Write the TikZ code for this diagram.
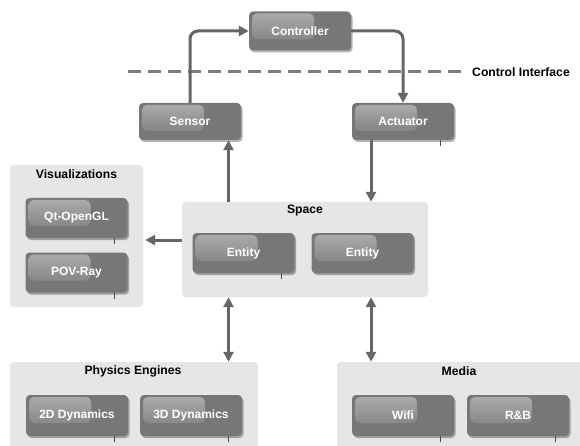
\documentclass[tikz,border=0pt]{standalone}
\usepackage{fontspec}
\setmainfont{Liberation Sans}
\usetikzlibrary{shadows,arrows.meta}
\definecolor{boxgray}{HTML}{777777}
\definecolor{grpgray}{HTML}{E6E6E6}
\definecolor{arrgray}{HTML}{666666}
\definecolor{hilite}{HTML}{ADADAD}
\definecolor{dashgray}{HTML}{7A7A7A}
\begin{document}
\begin{tikzpicture}[x=1pt,y=-1pt,
  comp/.style={rounded corners=4pt, fill=boxgray, minimum width=102pt, minimum height=39pt,
    inner sep=0pt, text=white, font=\fontsize{12}{14}\selectfont\bfseries,
    drop shadow={shadow xshift=1.5pt, shadow yshift=-2pt, opacity=0.3, fill=black},
    path picture={\shade[top color=hilite, bottom color=boxgray, rounded corners=5pt]
      ([xshift=3pt,yshift=-2pt]path picture bounding box.north west) rectangle ++(62,26);}},
  grp/.style={fill=grpgray, rounded corners=4pt, inner sep=0pt},
  ttl/.style={font=\fontsize{12.2}{14}\selectfont\bfseries, text=black, inner sep=0pt},
  arr/.style={draw=arrgray, line width=3pt, -{Triangle[length=10pt,width=10pt]}},
  darr/.style={draw=arrgray, line width=3pt, {Triangle[length=10pt,width=10pt]}-{Triangle[length=10pt,width=10pt]}},
  dashline/.style={draw=dashgray, line width=3pt, dash pattern=on 13pt off 7pt},
  tick/.style={draw=black!70, line width=0.6pt}
]
\useasboundingbox[fill=white] (0,0) rectangle (580,446);

% groups
\node[grp, minimum width=133pt, minimum height=142pt] (vis) at (76.5,236) {};
\node[ttl] (vist) at (76.5,174) {Visualizations};
\node[grp, minimum width=246pt, minimum height=95pt] (space) at (305,249.5) {};
\node[ttl] (spacet) at (305,211) {Space};
\node[grp, minimum width=248pt, minimum height=95pt] (phys) at (134,409.5) {};
\node[ttl] (physt) at (133,371) {Physics Engines};
\node[grp, minimum width=253pt, minimum height=95pt] (media) at (463.5,409.5) {};
\node[ttl] (mediat) at (459,371) {Media};

% components
\node[comp] (ctrl) at (300,31) {Controller};
\node[comp, minimum height=37pt] (sensor) at (190,121.5) {Sensor};
\node[comp, minimum height=37pt] (act) at (403,121.5) {Actuator};
\node[comp, minimum height=40pt] (qt) at (76.5,218) {Qt-OpenGL};
\node[comp, minimum height=40pt] (pov) at (76.5,272.5) {POV-Ray};
\node[comp, minimum height=40pt] (ent1) at (243.5,253) {Entity};
\node[comp, minimum height=40pt] (ent2) at (362.5,253) {Entity};
\node[comp, minimum height=41pt] (d2) at (77,415.5) {2D Dynamics};
\node[comp, minimum height=41pt] (d3) at (191,415.5) {3D Dynamics};
\node[comp, minimum height=41pt] (wifi) at (403,415.5) {Wifi};
\node[comp, minimum height=41pt] (rb) at (518,415.5) {R\&B};

% small ticks under boxes
\foreach \n in {qt,pov,ent1,act,d2,d3,wifi,rb}
  \draw[tick] ([xshift=-13.5pt]\n.south east) -- ++(0,6);

% control interface
\coordinate (dl) at (128,72);
\node[ttl, anchor=west] (ci) at (472,72) {Control Interface};
\draw[dashline] (dl) -- ([xshift=-10pt]ci.west);

% connectors
\draw[arr, rounded corners=8pt] (sensor.north) |- (ctrl.west);
\draw[arr, rounded corners=8pt] (ctrl.east) -| (act.north);
\coordinate (xl) at (228.5,0);
\coordinate (xr) at (371,0);
\coordinate (yv) at (0,240);
\draw[arr] (space.north -| xl) -- (sensor.south -| xl);
\draw[arr] (act.south -| xr) -- (space.north -| xr);
\draw[arr] (space.west |- yv) -- ([xshift=2pt]vis.east |- yv);
\draw[darr] (space.south -| xl) -- (phys.north -| xl);
\draw[darr] (space.south -| xr) -- (media.north -| xr);
\end{tikzpicture}
\end{document}
